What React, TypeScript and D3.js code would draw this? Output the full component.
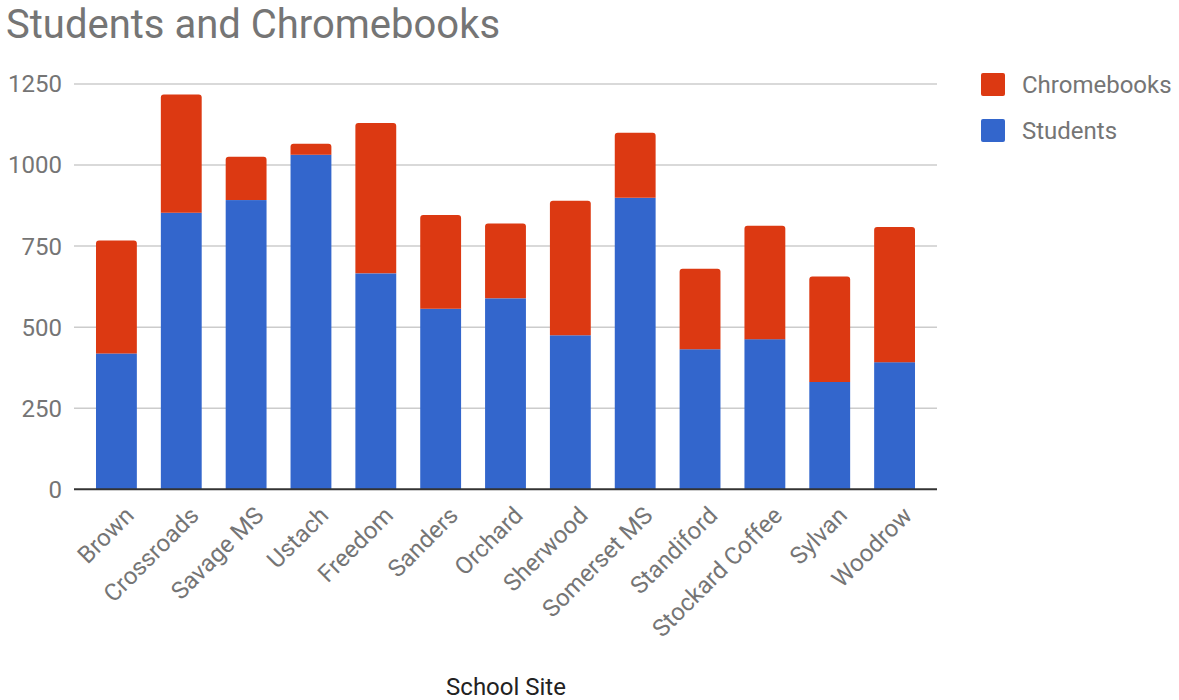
import React from "react";
import * as d3 from "d3";

const categories = ["Brown", "Crossroads", "Savage MS", "Ustach", "Freedom", "Sanders", "Orchard", "Sherwood", "Somerset MS", "Standiford", "Stockard Coffee", "Sylvan", "Woodrow"];
const students = [419, 853, 892, 1032, 666, 557, 589, 475, 899, 432, 463, 331, 392];
const chromebooks = [348, 365, 134, 34, 464, 289, 231, 415, 201, 248, 350, 325, 417];
const yTicks = [0, 250, 500, 750, 1000, 1250];
const seriesNames = ["Chromebooks", "Students"];
const seriesColors = ["#dc3912", "#3366cc"];

const W = 1179;
const H = 700;
const FONT = "Roboto, 'Noto Sans', sans-serif";

function topRounded(x: number, y: number, w: number, h: number, r: number) {
  const rr = Math.min(r, h, w / 2);
  return `M${x},${y + h}V${y + rr}Q${x},${y} ${x + rr},${y}H${x + w - rr}Q${x + w},${y} ${x + w},${y + rr}V${y + h}Z`;
}

export default function App() {
  const x = d3.scaleBand<string>().domain(categories).range([84, 927]).paddingInner(0.37).paddingOuter(0.185);
  const y = d3.scaleLinear().domain([0, 1250]).range([489.3, 84]);
  const gridX0 = 74;
  const gridX1 = 937;

  return (
    <svg width={W} height={H} style={{ position: "absolute", left: 0, top: 0, background: "#fff" }} fontFamily={FONT}>
      <text x={6} y={38} fontSize={40} fill="#757575">Students and Chromebooks</text>

      {yTicks.map((t) => (
        <g key={t}>
          {t !== 0 && <line x1={gridX0} x2={gridX1} y1={y(t)} y2={y(t)} stroke="#cccccc" strokeWidth={1.5} />}
          <text x={62} y={y(t)} dy="0.35em" textAnchor="end" fontSize={24} fill="#757575">{t}</text>
        </g>
      ))}

      {categories.map((c, i) => {
        const bx = x(c)!;
        const bw = x.bandwidth();
        const s = students[i];
        const tot = s + chromebooks[i];
        return (
          <g key={c}>
            <rect x={bx} y={y(s)} width={bw} height={y(0) - y(s)} fill={seriesColors[1]} />
            <path d={topRounded(bx, y(tot), bw, y(s) - y(tot), 3)} fill={seriesColors[0]} />
          </g>
        );
      })}

      <line x1={gridX0} x2={gridX1} y1={y(0)} y2={y(0)} stroke="#333333" strokeWidth={2} />

      {categories.map((c) => {
        const cx = x(c)! + x.bandwidth() / 2 + 13;
        const cy = 511;
        return (
          <text key={c} x={cx} y={cy} dy="0.35em" textAnchor="end" fontSize={24} fill="#757575" transform={`rotate(-45 ${cx} ${cy})`}>{c}</text>
        );
      })}

      <text x={506} y={695} textAnchor="middle" fontSize={24} fill="#222222">School Site</text>

      {seriesNames.map((n, i) => (
        <g key={n}>
          <rect x={981} y={73 + i * 46} width={24} height={23} rx={2} fill={seriesColors[i]} />
          <text x={1022} y={85 + i * 46} dy="0.35em" fontSize={24} fill="#757575">{n}</text>
        </g>
      ))}
    </svg>
  );
}
